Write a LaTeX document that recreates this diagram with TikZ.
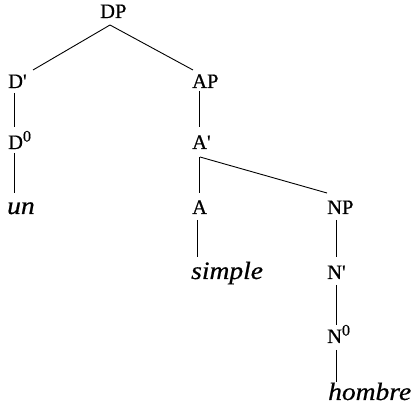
\documentclass[tikz,border=0pt]{standalone}
\usepackage{fontspec}
\setmainfont{Liberation Serif}[FakeBold=0.6]
\usetikzlibrary{calc}
\newcommand{\zsup}{\raisebox{7.5pt}{\fontsize{16}{16}\selectfont 0}}
\newcommand{\prm}{\textquotesingle}
\newcommand{\itword}[1]{\scalebox{1.1}[1]{\fontsize{25}{25}\selectfont\itshape #1}}
\tikzset{
  lab/.style={anchor=base west, inner sep=0pt, font=\fontsize{20.5}{20.5}\selectfont},
  edge/.style={line width=0.9pt}
}
\begin{document}
\begin{tikzpicture}[x=1pt,y=1pt]
\useasboundingbox (0,0) rectangle (416,-409);
\node[lab] (dp) at (100,-18) {DP};
\node[lab] (d1) at (8,-88) {D\prm};
\node[lab] (ap) at (192,-88) {AP};
\node[lab] (d0) at (8,-149) {D\zsup};
\node[lab] (a1) at (192,-149) {A\prm};
\node[lab] (un) at (7,-214) {\itword{un}};
\node[lab] (a0) at (192,-214) {A};
\node[lab] (np) at (327,-214) {NP};
\node[lab] (simple) at (191,-279) {\itword{simple}};
\node[lab] (n1) at (327,-279) {N\prm};
\node[lab] (n0) at (327,-343) {N\zsup};
\node[lab] (hombre) at (328,-400) {\itword{hombre}};
\draw[edge] ($(dp.base west)+(10,-7)$) -- ($(d1.base west)+(25,18)$);
\draw[edge] ($(dp.base west)+(10,-7)$) -- ($(ap.base west)+(1,18)$);
\draw[edge] ($(d1.base west)+(6,-5)$) -- ($(d0.base west)+(6,22)$);
\draw[edge] ($(d0.base west)+(6,-4)$) -- ($(un.base west)+(7,21)$);
\draw[edge] ($(ap.base west)+(7,-3)$) -- ($(a1.base west)+(7,22)$);
\draw[edge] ($(a1.base west)+(7,-8)$) -- ($(a0.base west)+(7,21)$);
\draw[edge] ($(a1.base west)+(8,-8)$) -- ($(np.base west)+(0,21)$);
\draw[edge] ($(a0.base west)+(5,-6)$) -- ($(simple.base west)+(6,22)$);
\draw[edge] ($(np.base west)+(9,-6)$) -- ($(n1.base west)+(9,22)$);
\draw[edge] ($(n1.base west)+(9,-6)$) -- ($(n0.base west)+(9,18)$);
\draw[edge] ($(n0.base west)+(9,-7)$) -- ($(hombre.base west)+(8,18)$);
\end{tikzpicture}
\end{document}
